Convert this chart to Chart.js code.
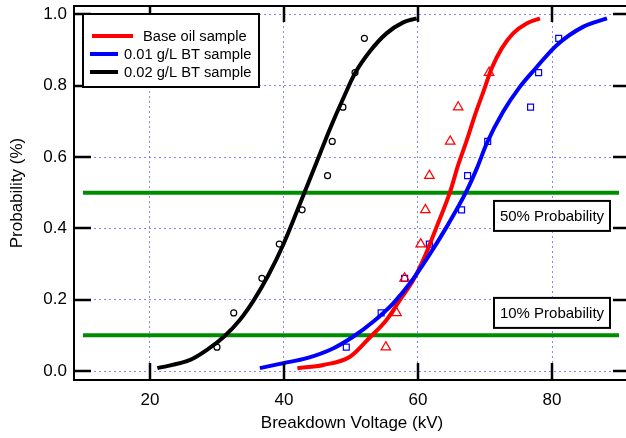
<!DOCTYPE html>
<html>
<head>
<meta charset="utf-8">
<script src="https://cdn.jsdelivr.net/npm/chart.js@4.4.0/dist/chart.umd.min.js"></script>
<style>
  html, body { margin: 0; padding: 0; background: #fff; overflow: hidden; }
</style>
</head>
<body>
<canvas id="chart" width="630" height="438"></canvas>
<script>
const seriesNames = ["Base oil sample", "0.01 g/L BT sample", "0.02 g/L BT sample"];
const seriesColors = ["#ff0000", "#0000ff", "#000000"];

// measured breakdown voltages (kV) and plotting probabilities
const baseOilKv = [55.2, 56.8, 58.0, 60.4, 61.1, 61.7, 64.8, 66.0, 70.6];
const baseOilProb = [0.067, 0.163, 0.26, 0.356, 0.452, 0.548, 0.644, 0.74, 0.837];
const bt001Kv = [49.3, 54.5, 58.0, 61.7, 66.5, 67.4, 70.4, 76.8, 78.0, 81.0];
const bt001Prob = [0.067, 0.163, 0.26, 0.356, 0.452, 0.548, 0.644, 0.74, 0.837, 0.933];
const bt002Kv = [30.0, 32.5, 36.7, 39.3, 42.7, 46.5, 47.2, 48.8, 50.6, 52.0];
const bt002Prob = [0.067, 0.163, 0.26, 0.356, 0.452, 0.548, 0.644, 0.74, 0.837, 0.933];

// fitted curves
const baseOilFitKv = [42.0, 45.9, 49.85, 52.8, 55.3, 57.3, 59.3, 61.1, 62.8, 64.8, 66.0, 67.3, 68.5, 69.75, 71.0, 72.5, 74.2, 76.2, 78.2];
const baseOilFitProb = [0.008, 0.017, 0.040, 0.094, 0.143, 0.199, 0.255, 0.325, 0.405, 0.503, 0.578, 0.648, 0.718, 0.783, 0.849, 0.905, 0.947, 0.975, 0.989];
const bt001FitKv = [36.4, 39.9, 43.4, 47.4, 50.3, 53.3, 56.3, 58.8, 61.5, 64.3, 67.2, 68.8, 70.25, 72.7, 75.2, 77.6, 80.7, 84.7, 88.2];
const bt001FitProb = [0.008, 0.022, 0.036, 0.064, 0.096, 0.138, 0.190, 0.246, 0.320, 0.405, 0.503, 0.569, 0.638, 0.727, 0.797, 0.850, 0.914, 0.966, 0.989];
const bt002FitKv = [21.1, 26.0, 28.5, 31.2, 33.4, 35.5, 37.7, 39.9, 43.1, 44.9, 46.9, 48.85, 50.6, 52.8, 55.3, 57.8, 59.8];
const bt002FitProb = [0.008, 0.031, 0.059, 0.099, 0.143, 0.199, 0.27, 0.355, 0.503, 0.587, 0.681, 0.765, 0.835, 0.896, 0.947, 0.978, 0.989];

// reference probability levels and their labels
const refLevels = [0.5, 0.1];
const refSpan = [10, 90];
const noteLabels = ["50% Probability", "10% Probability"];
const noteAtKv = 80;
const noteAtProb = [0.435, 0.163];

const xTicks = [20, 40, 60, 80];
const yTicks = [0, 0.2, 0.4, 0.6, 0.8, 1.0];

const FONT = "'Liberation Sans', Arial, Helvetica, sans-serif";

function pairs(xs, ys) {
  return xs.map((v, i) => ({ x: v, y: ys[i] }));
}

function noPad(s) {
  s.paddingTop = 0;
  s.paddingBottom = 0;
  s.paddingLeft = 0;
  s.paddingRight = 0;
}

const frameAndTicks = {
  id: "frameAndTicks",
  afterDatasetsDraw(chart) {
    const { ctx, chartArea: a, scales: { x, y } } = chart;
    ctx.save();
    ctx.strokeStyle = "#000";
    ctx.lineWidth = 2;
    ctx.strokeRect(a.left, a.top, a.right - a.left, a.bottom - a.top);
    ctx.lineWidth = 2.5;
    ctx.beginPath();
    x.ticks.forEach((t) => {
      const px = Math.round(x.getPixelForValue(t.value));
      ctx.moveTo(px, a.bottom);
      ctx.lineTo(px, a.bottom - 17);
      ctx.moveTo(px, a.top);
      ctx.lineTo(px, a.top + 16);
    });
    y.ticks.forEach((t) => {
      const py = Math.round(y.getPixelForValue(t.value));
      ctx.moveTo(a.left, py);
      ctx.lineTo(a.left + 17, py);
      ctx.moveTo(a.right, py);
      ctx.lineTo(a.right - 17, py);
    });
    ctx.stroke();

    // probability notes
    ctx.font = "15px " + FONT;
    ctx.textAlign = "center";
    ctx.textBaseline = "middle";
    noteLabels.forEach((txt, i) => {
      const cx = x.getPixelForValue(noteAtKv);
      const cy = y.getPixelForValue(noteAtProb[i]);
      ctx.fillStyle = "#fff";
      ctx.fillRect(cx - 58, cy - 15, 116, 30);
      ctx.lineWidth = 2;
      ctx.strokeRect(cx - 58, cy - 15, 116, 30);
      ctx.fillStyle = "#000";
      ctx.fillText(txt, cx, cy + 1);
    });

    // legend box
    const lx = a.left + 9, ly = a.top + 8;
    ctx.fillStyle = "#fff";
    ctx.fillRect(lx, ly, 176, 73);
    ctx.lineWidth = 2;
    ctx.strokeRect(lx, ly, 176, 73);
    const rows = [
      { x0: 9, x1: 50, tx: 60 },
      { x0: 7, x1: 35, tx: 41 },
      { x0: 7, x1: 35, tx: 41 },
    ];
    ctx.textAlign = "left";
    ctx.font = "14.7px " + FONT;
    rows.forEach((r, i) => {
      const ry = ly + 22 + i * 18;
      ctx.strokeStyle = seriesColors[i];
      ctx.lineWidth = 4;
      ctx.beginPath();
      ctx.moveTo(lx + r.x0, ry);
      ctx.lineTo(lx + r.x1, ry);
      ctx.stroke();
      ctx.fillStyle = "#000";
      ctx.fillText(seriesNames[i], lx + r.tx, ry + 1);
    });
    ctx.restore();
  },
};

const refDatasets = refLevels.map((lvl) => ({
  type: "line",
  data: refSpan.map((v) => ({ x: v, y: lvl })),
  borderColor: "#008c00",
  borderWidth: 4,
  pointRadius: 0,
  order: 10,
}));

const ctx = document.getElementById("chart").getContext("2d");
new Chart(ctx, {
  type: "scatter",
  data: {
    datasets: [
      ...refDatasets,
      {
        label: seriesNames[0],
        data: pairs(baseOilKv, baseOilProb),
        pointStyle: "triangle",
        pointRadius: 5.5,
        borderColor: seriesColors[0],
        backgroundColor: "rgba(0,0,0,0)",
        borderWidth: 1.2,
        order: 5,
      },
      {
        label: seriesNames[1],
        data: pairs(bt001Kv, bt001Prob),
        pointStyle: "rect",
        pointRadius: 4.2,
        borderColor: seriesColors[1],
        backgroundColor: "rgba(0,0,0,0)",
        borderWidth: 1.2,
        order: 5,
      },
      {
        label: seriesNames[2],
        data: pairs(bt002Kv, bt002Prob),
        pointStyle: "circle",
        pointRadius: 3,
        borderColor: seriesColors[2],
        backgroundColor: "rgba(0,0,0,0)",
        borderWidth: 1.2,
        order: 5,
      },
      {
        type: "line",
        data: pairs(baseOilFitKv, baseOilFitProb),
        borderColor: seriesColors[0],
        borderWidth: 4,
        pointRadius: 0,
        cubicInterpolationMode: "monotone",
        order: 3,
      },
      {
        type: "line",
        data: pairs(bt001FitKv, bt001FitProb),
        borderColor: seriesColors[1],
        borderWidth: 4,
        pointRadius: 0,
        cubicInterpolationMode: "monotone",
        order: 2,
      },
      {
        type: "line",
        data: pairs(bt002FitKv, bt002FitProb),
        borderColor: seriesColors[2],
        borderWidth: 4,
        pointRadius: 0,
        cubicInterpolationMode: "monotone",
        order: 1,
      },
    ],
  },
  options: {
    responsive: false,
    animation: false,
    layout: { autoPadding: false, padding: { top: 6, right: 0, left: 0, bottom: 0 } },
    plugins: { legend: { display: false }, tooltip: { enabled: false } },
    scales: {
      x: {
        type: "linear",
        min: 8.66,
        max: 91.64,
        afterBuildTicks: (s) => { s.ticks = xTicks.map((v) => ({ value: v })); },
        afterFit: (s) => { s.height = 58; noPad(s); },
        grid: { color: "rgba(80,80,255,0.7)", lineWidth: 1, drawTicks: false },
        border: { display: false, dash: [2, 3] },
        ticks: { color: "#000", font: { size: 17, family: FONT }, padding: 10, maxRotation: 0 },
        title: { display: true, text: "Breakdown Voltage (kV)", color: "#000", font: { size: 17, family: FONT }, padding: { top: 0, bottom: 4 } },
      },
      y: {
        type: "linear",
        min: -0.0252,
        max: 1.0238,
        afterBuildTicks: (s) => { s.ticks = yTicks.map((v) => ({ value: v })); },
        afterFit: (s) => { s.width = 74; noPad(s); },
        grid: { color: "rgba(80,80,255,0.7)", lineWidth: 1, drawTicks: false },
        border: { display: false, dash: [2, 3] },
        ticks: { color: "#000", font: { size: 17, family: FONT }, padding: 7, callback: (v) => v.toFixed(1) },
        title: { display: true, text: "Probability (%)", color: "#000", font: { size: 17, family: FONT }, padding: { top: 7, bottom: 0 } },
      },
    },
  },
  plugins: [frameAndTicks],
});
</script>
</body>
</html>
